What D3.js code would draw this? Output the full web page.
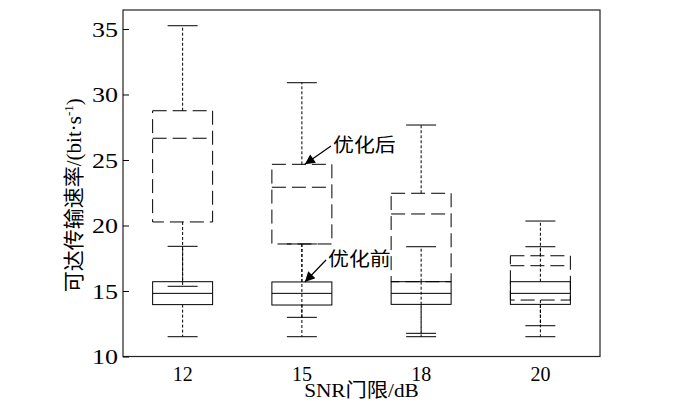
<!DOCTYPE html>
<html><head><meta charset="utf-8">
<script src="https://cdn.jsdelivr.net/npm/d3@7"></script>
<style>
body{margin:0;background:#fff;}
svg text{font-family:"Liberation Serif","Noto Sans CJK SC",serif;fill:#000;}
</style></head>
<body><svg id="c" width="700" height="414"></svg>
<script>
const categories = ["12","15","18","20"];
const yTicks = [10,15,20,25,30,35];
// 优化前 (solid boxes)
const beforeLow  = [11.51, 11.51, 11.51, 11.51];
const beforeQ1   = [13.96, 13.93, 13.98, 13.98];
const beforeMed  = [14.82, 14.82, 14.82, 14.82];
const beforeQ3   = [15.71, 15.69, 15.71, 15.71];
const beforeHigh = [18.41, 18.59, 18.38, 18.38];
// 优化后 (dashed boxes)
const afterLow  = [15.36, 12.99, 11.77, 12.35];
const afterQ1   = [20.27, 18.59, 15.71, 14.31];
const afterMed  = [26.66, 22.92, 20.88, 16.93];
const afterQ3   = [28.76, 24.67, 22.46, 17.69];
const afterHigh = [35.25, 30.90, 27.67, 20.34];

const svg = d3.select("#c");
const L=123, R=600, T=10, B=356.5;
const x = d3.scaleBand().domain(categories).range([L,R]).padding(0);
const y = d3.scaleLinear().domain([10,36.45]).range([B,T]);
const bw = x.bandwidth()*0.503, cw = bw/2;

function series(low,q1,med,q3,high,boxDash){
  const g = svg.append("g").attr("stroke","#000").attr("fill","none").attr("stroke-width",1);
  categories.forEach((c,i)=>{
    const cx = x(c)+x.bandwidth()/2;
    g.append("line").attr("x1",cx).attr("x2",cx).attr("y1",y(q3[i])).attr("y2",y(high[i])).attr("stroke-dasharray","3,2");
    g.append("line").attr("x1",cx).attr("x2",cx).attr("y1",y(q1[i])).attr("y2",y(low[i])).attr("stroke-dasharray","3,2");
    g.append("line").attr("x1",cx-cw/2).attr("x2",cx+cw/2).attr("y1",y(high[i])).attr("y2",y(high[i]));
    g.append("line").attr("x1",cx-cw/2).attr("x2",cx+cw/2).attr("y1",y(low[i])).attr("y2",y(low[i]));
    g.append("rect").attr("x",cx-bw/2).attr("width",bw).attr("y",y(q3[i])).attr("height",y(q1[i])-y(q3[i]))
      .attr("stroke-dasharray",boxDash);
    g.append("line").attr("x1",cx-bw/2).attr("x2",cx+bw/2).attr("y1",y(med[i])).attr("y2",y(med[i]))
      .attr("stroke-dasharray",boxDash);
  });
}
series(afterLow,afterQ1,afterMed,afterQ3,afterHigh,"14,6");
series(beforeLow,beforeQ1,beforeMed,beforeQ3,beforeHigh,null);

svg.append("rect").attr("x",L).attr("y",T).attr("width",R-L).attr("height",B-T)
  .attr("fill","none").attr("stroke","#222").attr("stroke-width",1.2);

// y axis (ticks inward), labels slightly widened
const yAxis = d3.axisLeft(y).tickValues(yTicks).tickSizeInner(-6).tickSizeOuter(0).tickPadding(5);
const ya = svg.append("g").attr("transform",`translate(${L},0)`).call(yAxis);
ya.select(".domain").remove();
ya.selectAll(".tick text").attr("font-size",20).attr("x",null).attr("dy","0.36em")
  .attr("transform","translate(-5,0) scale(1.3,1)");
// x axis labels
const xAxis = d3.axisBottom(x).tickSize(0).tickPadding(10);
const xa = svg.append("g").attr("transform",`translate(0,${B})`).call(xAxis);
xa.select(".domain").remove();
xa.selectAll("text").attr("font-size",20);

svg.append("text").attr("x",(L+R)/2).attr("y",397).attr("text-anchor","middle").attr("font-size",19)
  .attr("transform",`translate(${(L+R)/2},0) scale(1.12,1) translate(${-(L+R)/2},0)`)
  .text("SNR门限/dB");
const yl = svg.append("text").attr("transform",`translate(81,${(T+B)/2+12}) rotate(-90)`).attr("text-anchor","middle").attr("font-size",21);
yl.append("tspan").text("可达传输速率/(bit·s");
yl.append("tspan").attr("dy",-8).attr("font-size",13).text("-1");
yl.append("tspan").attr("dy",8).text(")");

svg.append("defs").append("marker").attr("id","ah").attr("viewBox","0 0 10 10").attr("refX",10).attr("refY",5)
  .attr("markerWidth",14).attr("markerHeight",10).attr("markerUnits","userSpaceOnUse").attr("orient","auto")
  .append("path").attr("d","M0,0L10,5L0,10Z").attr("fill","#000");
const c15 = x("15")+x.bandwidth()/2;
function annot(tipY, tx, ty, label){
  svg.append("line").attr("x1",tx-2).attr("y1",ty-6).attr("x2",c15+3).attr("y2",tipY)
    .attr("stroke","#000").attr("stroke-width",1.2).attr("marker-end","url(#ah)");
  svg.append("text").attr("font-size",19)
    .attr("transform",`translate(${tx},${ty}) scale(1.1,1)`).text(label);
}
annot(y(afterQ3[1]), 333, 152, "优化后");
annot(y(beforeQ3[1]), 328, 266, "优化前");
</script></body></html>
